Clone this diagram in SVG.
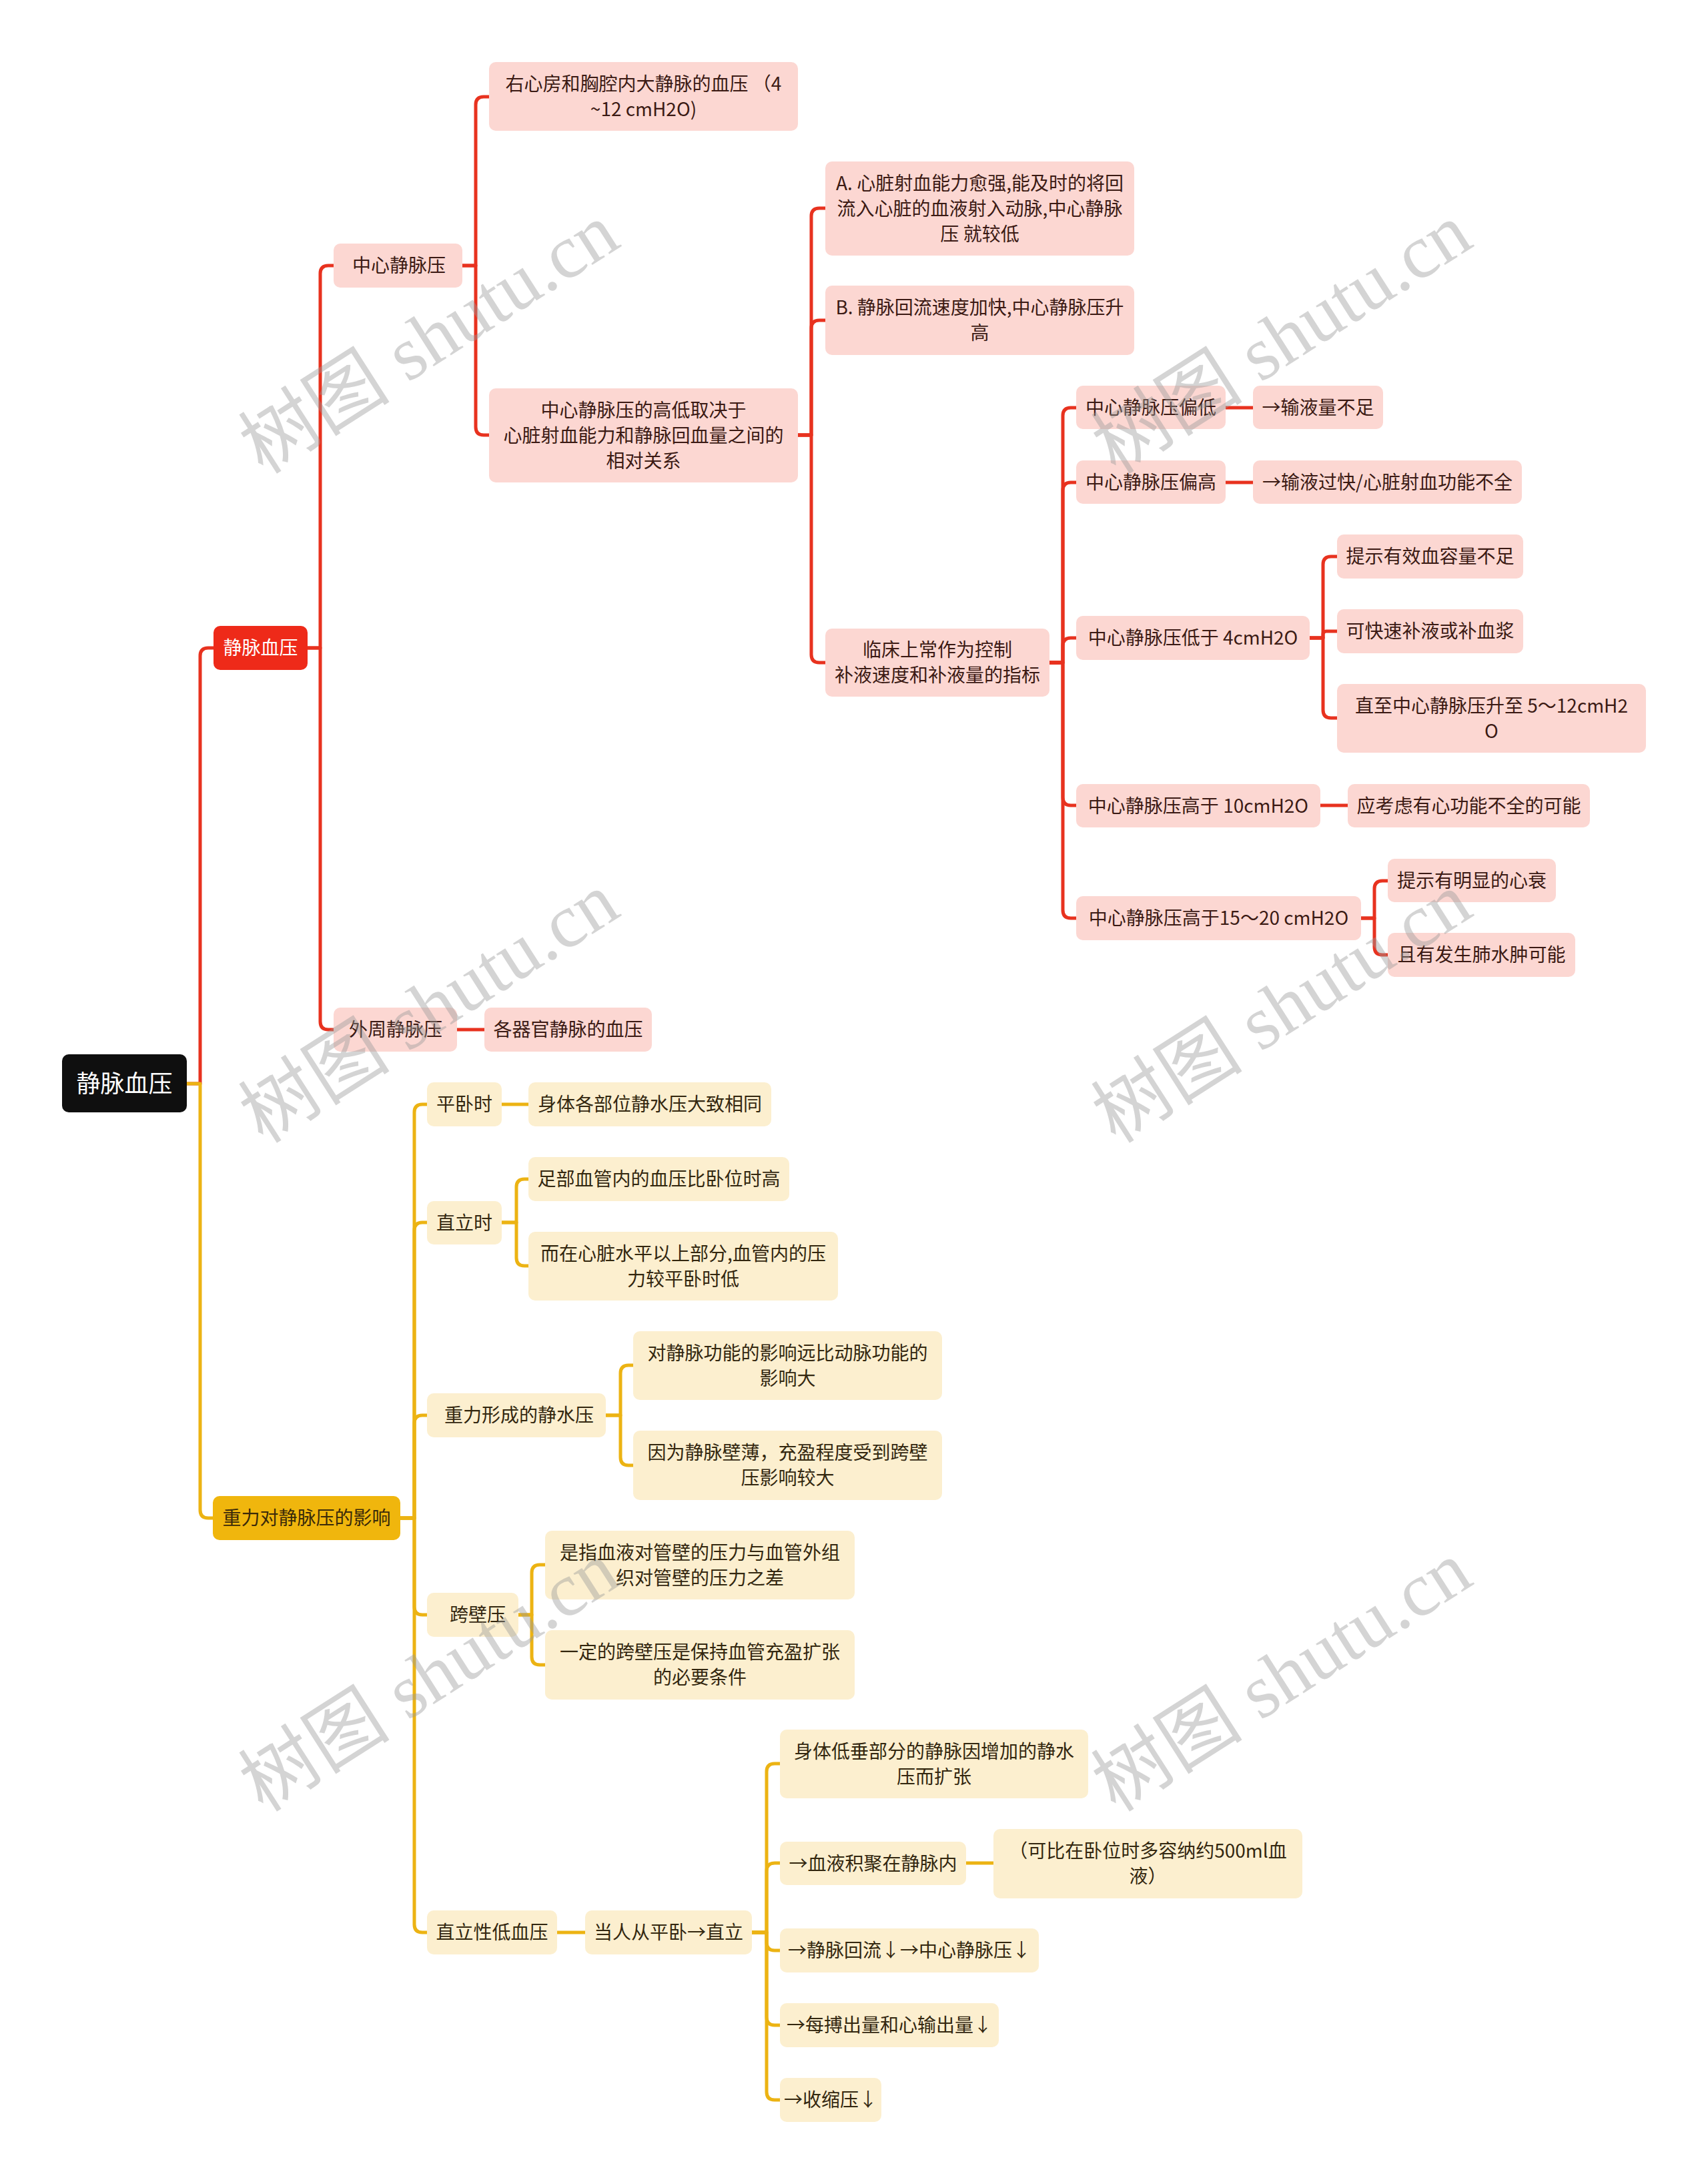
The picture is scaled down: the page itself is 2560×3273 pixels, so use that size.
<svg xmlns="http://www.w3.org/2000/svg" width="2560" height="3273" viewBox="0 0 2560 3273">
<style>
.bg{fill:#ffffff}
.rl{fill:none;stroke:#e8321f;stroke-width:5;stroke-linejoin:round}
.yl{fill:none;stroke:#ecb313;stroke-width:5;stroke-linejoin:round}
.pr{fill:#fcd7d2}
.py{fill:#fcefcf}
.t{font-family:"Noto Sans CJK SC","Liberation Sans",sans-serif;font-size:28px;text-anchor:middle}
.tr{fill:#3b1a14}
.ty{fill:#33270f}
.tw{fill:#ffffff}
.wm{font-family:"Liberation Serif","Noto Sans CJK SC",serif;font-size:114px;fill:#999999;fill-opacity:0.42;text-anchor:middle}
</style>
<rect class="bg" x="0" y="0" width="2560" height="3273"/>
<g id="connectors">
<path class="rl" d="M280 1624 H300 V983 Q300 971 312 971 H320"/>
<path class="yl" d="M280 1624 H300 V2263 Q300 2275 312 2275 H319"/>
<path class="rl" d="M461 971 H480 V410 Q480 398 492 398 H500"/>
<path class="rl" d="M461 971 H480 V1531 Q480 1543 492 1543 H500"/>
<path class="rl" d="M685 1543 H726"/>
<path class="rl" d="M693 398 H713 V157 Q713 145 725 145 H733"/>
<path class="rl" d="M693 398 H713 V640 Q713 652 725 652 H733"/>
<path class="rl" d="M1196 652 H1216 V324 Q1216 312 1228 312 H1237"/>
<path class="rl" d="M1196 652 H1216 V492 Q1216 480 1228 480 H1237"/>
<path class="rl" d="M1196 652 H1216 V981 Q1216 993 1228 993 H1237"/>
<path class="rl" d="M1573 993 H1593 V623 Q1593 611 1605 611 H1613"/>
<path class="rl" d="M1573 993 H1593 V735 Q1593 723 1605 723 H1613"/>
<path class="rl" d="M1573 993 H1593 V968 Q1593 956 1605 956 H1613"/>
<path class="rl" d="M1573 993 H1593 V1195 Q1593 1207 1605 1207 H1613"/>
<path class="rl" d="M1573 993 H1593 V1364 Q1593 1376 1605 1376 H1613"/>
<path class="rl" d="M1837 611 H1878"/>
<path class="rl" d="M1837 723 H1878"/>
<path class="rl" d="M1963 956 H1983 V846 Q1983 834 1995 834 H2004"/>
<path class="rl" d="M1963 956 H1983 V951 Q1983 946 1988 946 H2004"/>
<path class="rl" d="M1963 956 H1983 V1064 Q1983 1076 1995 1076 H2004"/>
<path class="rl" d="M1979 1207 H2020"/>
<path class="rl" d="M2040 1376 H2060 V1332 Q2060 1320 2072 1320 H2080"/>
<path class="rl" d="M2040 1376 H2060 V1419 Q2060 1431 2072 1431 H2080"/>
<path class="yl" d="M600 2275 H621 V1667 Q621 1655 633 1655 H640"/>
<path class="yl" d="M600 2275 H621 V1844 Q621 1832 633 1832 H640"/>
<path class="yl" d="M600 2275 H621 V2133 Q621 2121 633 2121 H640"/>
<path class="yl" d="M600 2275 H621 V2408 Q621 2420 633 2420 H640"/>
<path class="yl" d="M600 2275 H621 V2884 Q621 2896 633 2896 H640"/>
<path class="yl" d="M752 1655 H792"/>
<path class="yl" d="M752 1832 H774 V1779 Q774 1767 786 1767 H792"/>
<path class="yl" d="M752 1832 H774 V1885 Q774 1897 786 1897 H792"/>
<path class="yl" d="M908 2121 H930 V2058 Q930 2046 942 2046 H949"/>
<path class="yl" d="M908 2121 H930 V2184 Q930 2196 942 2196 H949"/>
<path class="yl" d="M777 2420 H797 V2357 Q797 2345 809 2345 H817"/>
<path class="yl" d="M777 2420 H797 V2483 Q797 2495 809 2495 H817"/>
<path class="yl" d="M835 2896 H877"/>
<path class="yl" d="M1127 2896 H1149 V2655 Q1149 2643 1161 2643 H1169"/>
<path class="yl" d="M1127 2896 H1149 V2804 Q1149 2792 1161 2792 H1169"/>
<path class="yl" d="M1127 2896 H1149 V2911 Q1149 2923 1161 2923 H1169"/>
<path class="yl" d="M1127 2896 H1149 V3023 Q1149 3035 1161 3035 H1169"/>
<path class="yl" d="M1127 2896 H1149 V3135 Q1149 3147 1161 3147 H1169"/>
<path class="yl" d="M1448 2792 H1489"/>
</g>
<g id="root"><rect x="93" y="1580" width="187" height="87" rx="10" fill="#0f0f0f"/><text class="t tw" x="186.5" y="1637" style="font-size:36px">静脉血压</text></g>
<g id="n-jmxy"><rect x="320" y="938" width="141" height="66" rx="10" fill="#ee2a19"/><text class="t tw" x="390.5" y="981">静脉血压</text></g>
<g id="n-zl"><rect x="319" y="2242" width="281" height="66" rx="10" fill="#f0b60d"/><text class="t" x="459.5" y="2285" fill="#3a2a0a">重力对静脉压的影响</text></g>
<g id="n-zxjmy"><rect class="pr" x="500" y="365" width="193" height="66" rx="10"/><text class="t tr" x="598" y="408">中心静脉压</text></g>
<g id="n-wzjmy"><rect class="pr" x="500" y="1510" width="185" height="66" rx="10"/><text class="t tr" x="593" y="1553">外周静脉压</text></g>
<g id="n-gqg"><rect class="pr" x="726" y="1510" width="251" height="66" rx="10"/><text class="t tr" x="851.5" y="1553">各器官静脉的血压</text></g>
<g id="n-yxf"><rect class="pr" x="733" y="93" width="463" height="103" rx="10"/><text class="t tr"><tspan x="964.5" y="135.5">右心房和胸腔内大静脉的血压 （4</tspan><tspan x="964.5" y="173.5">~12 cmH2O)</tspan></text></g>
<g id="n-gd"><rect class="pr" x="733" y="582" width="463" height="141" rx="10"/><text class="t tr"><tspan x="964.5" y="624.5">中心静脉压的高低取决于</tspan><tspan x="964.5" y="662.5">心脏射血能力和静脉回血量之间的</tspan><tspan x="964.5" y="700.5">相对关系</tspan></text></g>
<g id="n-a"><rect class="pr" x="1237" y="242" width="463" height="141" rx="10"/><text class="t tr"><tspan x="1468.5" y="284.5">A. 心脏射血能力愈强,能及时的将回</tspan><tspan x="1468.5" y="322.5">流入心脏的血液射入动脉,中心静脉</tspan><tspan x="1468.5" y="360.5">压 就较低</tspan></text></g>
<g id="n-b"><rect class="pr" x="1237" y="428" width="463" height="104" rx="10"/><text class="t tr"><tspan x="1468.5" y="471">B. 静脉回流速度加快,中心静脉压升</tspan><tspan x="1468.5" y="509">高</tspan></text></g>
<g id="n-lc"><rect class="pr" x="1237" y="942" width="336" height="102" rx="10"/><text class="t tr"><tspan x="1405" y="984">临床上常作为控制</tspan><tspan x="1405" y="1022">补液速度和补液量的指标</tspan></text></g>
<g id="n-pd"><rect class="pr" x="1613" y="578" width="224" height="65" rx="10"/><text class="t tr" x="1725" y="620.5">中心静脉压偏低</text></g>
<g id="n-pd1"><rect class="pr" x="1878" y="578" width="195" height="65" rx="10"/><text class="t tr" x="1975.5" y="620.5">→输液量不足</text></g>
<g id="n-pg"><rect class="pr" x="1613" y="690" width="224" height="65" rx="10"/><text class="t tr" x="1725" y="732.5">中心静脉压偏高</text></g>
<g id="n-pg1"><rect class="pr" x="1878" y="690" width="403" height="65" rx="10"/><text class="t tr" x="2079.5" y="732.5">→输液过快/心脏射血功能不全</text></g>
<g id="n-dy4"><rect class="pr" x="1613" y="923" width="350" height="66" rx="10"/><text class="t tr" x="1788" y="966">中心静脉压低于 4cmH2O</text></g>
<g id="n-dy4a"><rect class="pr" x="2004" y="801" width="279" height="66" rx="10"/><text class="t tr" x="2143.5" y="844">提示有效血容量不足</text></g>
<g id="n-dy4b"><rect class="pr" x="2004" y="913" width="279" height="66" rx="10"/><text class="t tr" x="2143.5" y="956">可快速补液或补血浆</text></g>
<g id="n-dy4c"><rect class="pr" x="2004" y="1025" width="463" height="103" rx="10"/><text class="t tr"><tspan x="2235.5" y="1067.5">直至中心静脉压升至 5～12cmH2</tspan><tspan x="2235.5" y="1105.5">O</tspan></text></g>
<g id="n-gy10"><rect class="pr" x="1613" y="1175" width="366" height="65" rx="10"/><text class="t tr" x="1796" y="1217.5">中心静脉压高于 10cmH2O</text></g>
<g id="n-gy10a"><rect class="pr" x="2020" y="1175" width="363" height="65" rx="10"/><text class="t tr" x="2201.5" y="1217.5">应考虑有心功能不全的可能</text></g>
<g id="n-gy15"><rect class="pr" x="1613" y="1343" width="427" height="66" rx="10"/><text class="t tr" x="1826.5" y="1386">中心静脉压高于15～20 cmH2O</text></g>
<g id="n-gy15a"><rect class="pr" x="2080" y="1287" width="252" height="65" rx="10"/><text class="t tr" x="2206" y="1329.5">提示有明显的心衰</text></g>
<g id="n-gy15b"><rect class="pr" x="2080" y="1398" width="281" height="66" rx="10"/><text class="t tr" x="2220.5" y="1441">且有发生肺水肿可能</text></g>
<g id="n-pws"><rect class="py" x="640" y="1622" width="112" height="66" rx="10"/><text class="t ty" x="696" y="1665">平卧时</text></g>
<g id="n-pws1"><rect class="py" x="792" y="1622" width="364" height="66" rx="10"/><text class="t ty" x="974" y="1665">身体各部位静水压大致相同</text></g>
<g id="n-zls"><rect class="py" x="640" y="1800" width="112" height="65" rx="10"/><text class="t ty" x="696" y="1842.5">直立时</text></g>
<g id="n-zls1"><rect class="py" x="792" y="1734" width="391" height="66" rx="10"/><text class="t ty" x="987.5" y="1777">足部血管内的血压比卧位时高</text></g>
<g id="n-zls2"><rect class="py" x="792" y="1846" width="464" height="103" rx="10"/><text class="t ty"><tspan x="1024" y="1888.5">而在心脏水平以上部分,血管内的压</tspan><tspan x="1024" y="1926.5">力较平卧时低</tspan></text></g>
<g id="n-jsy"><rect class="py" x="640" y="2088" width="268" height="66" rx="10"/><text class="t ty" x="778" y="2131">重力形成的静水压</text></g>
<g id="n-jsy1"><rect class="py" x="949" y="1995" width="463" height="103" rx="10"/><text class="t ty"><tspan x="1180.5" y="2037.5">对静脉功能的影响远比动脉功能的</tspan><tspan x="1180.5" y="2075.5">影响大</tspan></text></g>
<g id="n-jsy2"><rect class="py" x="949" y="2144" width="463" height="104" rx="10"/><text class="t ty"><tspan x="1180.5" y="2187">因为静脉壁薄，充盈程度受到跨壁</tspan><tspan x="1180.5" y="2225">压影响较大</tspan></text></g>
<g id="n-kby"><rect class="py" x="640" y="2387" width="137" height="66" rx="10"/><text class="t ty" x="716" y="2430">跨壁压</text></g>
<g id="n-kby1"><rect class="py" x="817" y="2294" width="464" height="103" rx="10"/><text class="t ty"><tspan x="1049" y="2336.5">是指血液对管壁的压力与血管外组</tspan><tspan x="1049" y="2374.5">织对管壁的压力之差</tspan></text></g>
<g id="n-kby2"><rect class="py" x="817" y="2443" width="464" height="104" rx="10"/><text class="t ty"><tspan x="1049" y="2486">一定的跨壁压是保持血管充盈扩张</tspan><tspan x="1049" y="2524">的必要条件</tspan></text></g>
<g id="n-zlx"><rect class="py" x="640" y="2863" width="195" height="66" rx="10"/><text class="t ty" x="737.5" y="2906">直立性低血压</text></g>
<g id="n-dr"><rect class="py" x="877" y="2863" width="250" height="66" rx="10"/><text class="t ty" x="1002" y="2906">当人从平卧→直立</text></g>
<g id="n-dr1"><rect class="py" x="1169" y="2592" width="462" height="103" rx="10"/><text class="t ty"><tspan x="1400" y="2634.5">身体低垂部分的静脉因增加的静水</tspan><tspan x="1400" y="2672.5">压而扩张</tspan></text></g>
<g id="n-dr2"><rect class="py" x="1169" y="2760" width="279" height="65" rx="10"/><text class="t ty" x="1308.5" y="2802.5">→血液积聚在静脉内</text></g>
<g id="n-dr2a"><rect class="py" x="1489" y="2741" width="463" height="104" rx="10"/><text class="t ty"><tspan x="1720.5" y="2784">（可比在卧位时多容纳约500ml血</tspan><tspan x="1720.5" y="2822">液）</tspan></text></g>
<g id="n-dr3"><rect class="py" x="1169" y="2890" width="388" height="66" rx="10"/><text class="t ty" x="1363" y="2933">→静脉回流↓→中心静脉压↓</text></g>
<g id="n-dr4"><rect class="py" x="1169" y="3002" width="328" height="66" rx="10"/><text class="t ty" x="1333" y="3045">→每搏出量和心输出量↓</text></g>
<g id="n-dr5"><rect class="py" x="1169" y="3114" width="152" height="66" rx="10"/><text class="t ty" x="1245" y="3157">→收缩压↓</text></g>
<g id="watermarks">
<text class="wm" transform="translate(664 540) rotate(-32.6)">树图 shutu.cn</text>
<text class="wm" transform="translate(1942 540) rotate(-32.6)">树图 shutu.cn</text>
<text class="wm" transform="translate(664 1543) rotate(-32.6)">树图 shutu.cn</text>
<text class="wm" transform="translate(1942 1543) rotate(-32.6)">树图 shutu.cn</text>
<text class="wm" transform="translate(664 2545) rotate(-32.6)">树图 shutu.cn</text>
<text class="wm" transform="translate(1942 2545) rotate(-32.6)">树图 shutu.cn</text>
</g>
</svg>
